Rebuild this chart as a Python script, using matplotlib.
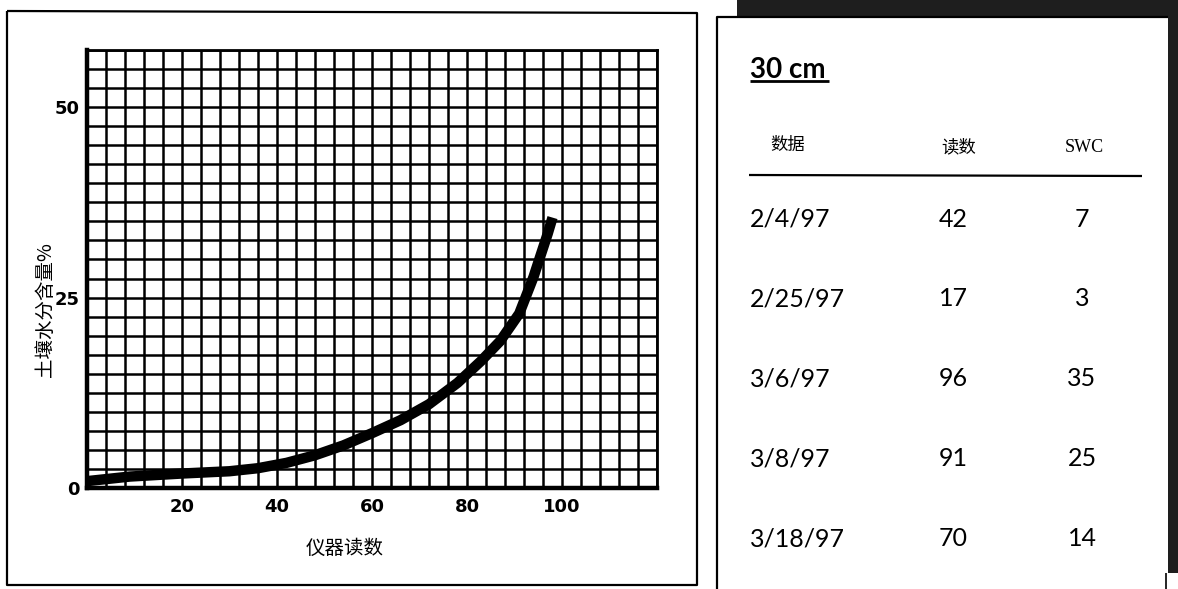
import numpy as np
import matplotlib
matplotlib.use('Agg')
import matplotlib.pyplot as plt
from matplotlib.lines import Line2D
from matplotlib.patches import Rectangle

plt.rcParams['font.family'] = ['DejaVu Sans', 'Noto Sans CJK SC']

# curve (仪器读数 -> 土壤水分含量%)
reading = [0, 9, 20, 30, 36, 42, 48, 54, 60, 66, 72, 78, 83, 87, 91, 94, 97, 98]
swc_curve = [0.9, 1.5, 1.9, 2.2, 2.6, 3.3, 4.3, 5.6, 7.2, 8.9, 11.0, 13.8, 16.7, 19.3, 22.9, 27.7, 33.4, 35.5]

x_ticks = [20, 40, 60, 80, 100]
y_ticks = [0, 25, 50]

# table 30 cm
dates = ['2/4/97', '2/25/97', '3/6/97', '3/8/97', '3/18/97']
readings = [42, 17, 96, 91, 70]
swc = [7, 3, 35, 25, 14]

W, H = 1178, 589
fig = plt.figure(figsize=(W / 100, H / 100), dpi=100)


def fx(x):
    return x / W


def fy(y):
    return 1 - y / H


def fline(xs, ys, lw=1.5, color='black'):
    fig.add_artist(Line2D([fx(v) for v in xs], [fy(v) for v in ys],
                          transform=fig.transFigure, color=color, lw=lw,
                          solid_capstyle='butt'))


# fondo oscuro arriba a la derecha
fig.add_artist(Rectangle((fx(737), fy(17)), fx(W) - fx(737), 1 - fy(17),
                         transform=fig.transFigure, color='#1e1e1e', lw=0))
fig.add_artist(Rectangle((fx(1168), fy(573)), fx(W) - fx(1168), fy(0) - fy(573),
                         transform=fig.transFigure, color='#1e1e1e', lw=0))

# marcos
fline([7, 697, 697, 7, 7], [11, 13, 585, 585, 11], lw=1.6)
fline([717, 717, 1168], [589, 17, 17], lw=1.6)
fline([1166, 1166], [573, 589], lw=1.2)

# gráfico
ax = fig.add_axes([fx(87), fy(488), fx(657) - fx(87), fy(50) - fy(488)])
ax.set_xlim(0, 120)
ax.set_ylim(0, 57.5)
ax.set_xticks(np.arange(0, 121, 4), minor=True)
ax.set_yticks(np.arange(0, 57.6, 2.5), minor=True)
ax.set_xticks(x_ticks)
ax.set_yticks(y_ticks)
ax.grid(which='both', color='black', lw=1.8)
ax.tick_params(which='both', length=0)
ax.tick_params(axis='x', pad=7)
ax.tick_params(axis='y', pad=5)
for lab in ax.get_xticklabels() + ax.get_yticklabels():
    lab.set_fontweight('bold')
    lab.set_fontsize(13)
for s in ['left', 'bottom']:
    ax.spines[s].set_linewidth(3.2)
for s in ['top', 'right']:
    ax.spines[s].set_linewidth(2)
ax.plot(reading, swc_curve, color='black', lw=7.5, solid_capstyle='butt',
        solid_joinstyle='round', zorder=5)

fig.text(fx(345), fy(548), '仪器读数', family=['Noto Sans CJK SC'], fontsize=14,
         ha='center', va='center')
fig.text(fx(45), fy(310), '土壤水分含量%', family=['Noto Sans CJK SC'], fontsize=14,
         ha='center', va='center', rotation=90)

# tabla
fig.text(fx(750), fy(70), '30 cm', family=['Lato'], fontweight='bold', fontsize=20,
         ha='left', va='center')
fline([750, 829], [81, 81], lw=2)
fig.text(fx(788), fy(145), '数据', family=['Noto Sans CJK SC'], fontsize=12.5,
         ha='center', va='center')
fig.text(fx(959), fy(147), '读数', family=['Noto Sans CJK SC'], fontsize=12.5,
         ha='center', va='center')
fig.text(fx(1084), fy(148), 'SWC', family=['Liberation Serif'], fontsize=13,
         ha='center', va='center')
fline([749, 1142], [175, 176], lw=1.6)

for i, (d, r, s) in enumerate(zip(dates, readings, swc)):
    y = 219 + 80 * i
    fig.text(fx(750), fy(y), d, family=['Lato'], fontsize=18, ha='left', va='center')
    fig.text(fx(953), fy(y), str(r), family=['Lato'], fontsize=18, ha='center', va='center')
    fig.text(fx(1082), fy(y), str(s), family=['Lato'], fontsize=18, ha='center', va='center')

fig.savefig('out.png', dpi=100)
